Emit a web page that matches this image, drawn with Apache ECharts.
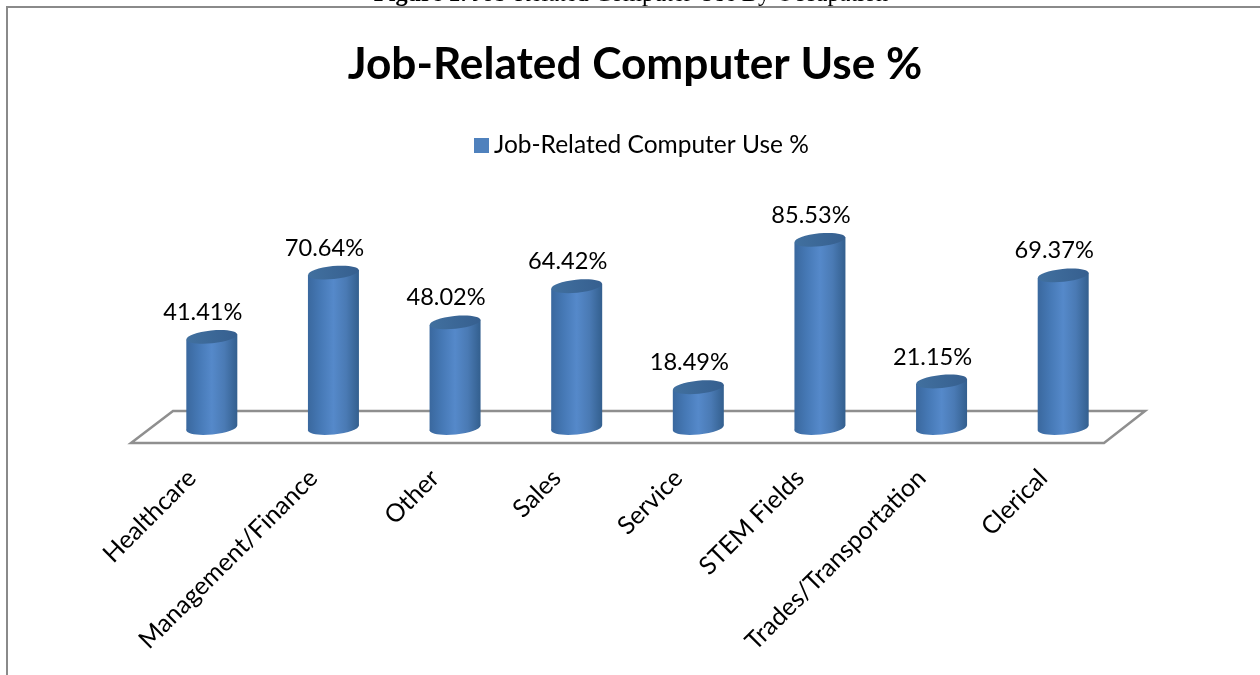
<!DOCTYPE html>
<html>
<head>
<meta charset="utf-8">
<style>html,body{margin:0;padding:0;background:#fff;overflow:hidden}#chart{width:1260px;height:675px}</style>
<script src="https://cdn.jsdelivr.net/npm/echarts@6/dist/echarts.min.js"></script>
</head>
<body>
<div id="chart"></div>
<script>
const occupations = ['Healthcare','Management/Finance','Other','Sales','Service','STEM Fields','Trades/Transportation','Clerical'];
const computerUse = [41.41,70.64,48.02,64.42,18.49,85.53,21.15,69.37];
const seriesName = 'Job-Related Computer Use %';
const caption = 'Job-Related Computer Use By Occupation';

// Pseudo-3D depth: cylinders stand on the floor, set back from the front axis.
const DEPTH_X = 20, DEPTH_Y = -15;
const RX = 25.5, RY = 6.5, TILT = 0.1;

const bodyFill = new echarts.graphic.LinearGradient(0,0,1,0,[
  {offset:0,color:'#3a689e'},{offset:0.25,color:'#4679b6'},{offset:0.5,color:'#5589ca'},
  {offset:0.75,color:'#4a7ab4'},{offset:1,color:'#335f8e'}]);
const capFill = new echarts.graphic.LinearGradient(0,0,1,0,[
  {offset:0,color:'#41709f'},{offset:1,color:'#365f8f'}]);

function renderCylinder(params, api) {
  const base = api.coord([api.value(0), 0]);
  const top = api.coord([api.value(0), api.value(1)]);
  const cx = base[0] + DEPTH_X, yb = base[1] + DEPTH_Y, yt = top[1] + DEPTH_Y;
  const dy = RX * Math.sin(TILT);
  return {
    type:'group',
    children:[
      {type:'ellipse',shape:{cx:0,cy:0,rx:RX,ry:RY},x:cx,y:yb,rotation:TILT,style:{fill:bodyFill}},
      {type:'polygon',shape:{points:[[cx-RX,yt+dy],[cx+RX,yt-dy],[cx+RX,yb-dy],[cx-RX,yb+dy]]},style:{fill:bodyFill}},
      {type:'ellipse',shape:{cx:0,cy:0,rx:RX,ry:RY},x:cx,y:yt,rotation:TILT,style:{fill:capFill}},
      {type:'text',x:cx-9,y:yt-12.5,style:{text:api.value(1).toFixed(2)+'%',fill:'#000',
        font:'23.6px Lato',align:'center',verticalAlign:'bottom'}}
    ]
  };
}

const option = {
  animation:false,
  backgroundColor:'#fff',
  title:[
    {text:seriesName,left:630,textAlign:'center',top:38,itemGap:0,
      textStyle:{fontFamily:'Lato',fontWeight:'bold',fontSize:44.2,color:'#000'}},
    {text:'{b|Figure 1.} '+caption,left:631,textAlign:'center',top:-17,padding:0,
      textStyle:{rich:{b:{fontFamily:'Liberation Serif',fontWeight:'bold',fontSize:24.3,color:'#000'}},
        fontFamily:'Liberation Serif',fontWeight:'normal',fontSize:24.3,color:'#000'}}
  ],
  legend:{data:[{name:seriesName,icon:'rect'}],left:469,top:128,itemWidth:15,itemHeight:15,itemGap:5,
    textStyle:{fontFamily:'Lato',fontSize:24.5,color:'#000'}},
  grid:{left:131,width:973,top:223,height:220},
  xAxis:{type:'category',data:occupations,
    axisLine:{show:false},axisTick:{show:false},
    axisLabel:{rotate:45,interval:0,margin:31,fontFamily:'Lato',fontSize:25,color:'#000'}},
  yAxis:{type:'value',min:0,max:100,show:false,splitLine:{show:false}},
  // Page frame and the floor of the plot, behind the cylinders.
  graphic:[
    {type:'polyline',z:0,shape:{points:[[7,675],[7,7],[1260,7]]},style:{stroke:'#8a8a8a',lineWidth:2,fill:null}},
    {type:'polygon',z:0,shape:{points:[[131,443],[1104,443],[1145,411],[173,411]]},style:{stroke:'#8f8f8f',lineWidth:2.5,fill:'none'}}
  ],
  series:[{
    type:'custom',name:seriesName,z:5,clip:false,
    itemStyle:{color:'#4f81bd'},
    encode:{x:0,y:1},
    data:computerUse.map((v,i)=>[i,v]),
    renderItem:renderCylinder
  }]
};
echarts.init(document.getElementById('chart'),null,{renderer:'canvas'}).setOption(option);
</script>
</body>
</html>
